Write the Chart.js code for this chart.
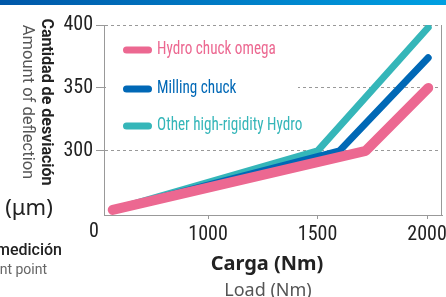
<!DOCTYPE html>
<html>
<head>
<meta charset="utf-8">
<script src="https://cdn.jsdelivr.net/npm/chart.js@4/dist/chart.umd.min.js"></script>
<style>
html,body{margin:0;padding:0;background:#fff;}
#wrap{width:446px;height:297px;position:relative;}
</style>
</head>
<body>
<div id="wrap"><canvas id="c" width="446" height="297"></canvas></div>
<script>
// ---- data ----
const seriesNames = ['Hydro chuck omega', 'Milling chuck', 'Other high-rigidity Hydro'];
const omegaLoad = [565, 1720, 2005];
const omegaDefl = [253, 300, 350];
const millingLoad = [565, 1600, 2005];
const millingDefl = [253, 300, 374];
const otherLoad = [565, 1500, 2005];
const otherDefl = [253, 300, 398];
const xTicks = [1000, 1500, 2000];
const yTicks = [300, 350, 400];
const xOriginLabel = '0';
const yTitle = ['Cantidad de desviación', 'Amount of deflection'];
const yUnit = '(μm)';
const pointTitle = ['Punto de medición', 'Measurement point'];
const xTitle = ['Carga (Nm)', 'Load (Nm)'];

const colors = ['#EC6891', '#0068B6', '#35B6B9'];
const widths = [10, 7, 7];

function pts(xs, ys) { return xs.map((x, i) => ({x: x, y: ys[i]})); }
const series = [pts(omegaLoad, omegaDefl), pts(millingLoad, millingDefl), pts(otherLoad, otherDefl)];

const NARROW = "'Liberation Sans Narrow', 'Roboto Condensed', Roboto, sans-serif";

const deco = {
  id: 'deco',
  beforeDraw(chart) {
    const ctx = chart.ctx;
    ctx.save();
    const g = ctx.createLinearGradient(0, 0, chart.width, 0);
    g.addColorStop(0, '#0057A8');
    g.addColorStop(1, '#00A0E2');
    ctx.fillStyle = g;
    ctx.fillRect(0, 0, chart.width, 5);
    ctx.restore();
  },
  afterDraw(chart) {
    const ctx = chart.ctx;
    const a = chart.chartArea;
    ctx.save();
    // right border
    ctx.strokeStyle = '#999';
    ctx.lineWidth = 1;
    ctx.beginPath();
    ctx.moveTo(Math.round(a.right) - 0.5, a.top);
    ctx.lineTo(Math.round(a.right) - 0.5, a.bottom);
    ctx.stroke();
    // legend box
    ctx.fillStyle = '#fff';
    ctx.fillRect(a.left + 2, 31, 192, 110);
    const rows = [50, 89, 126];
    chart.data.datasets.forEach((ds, i) => {
      const y = rows[i];
      ctx.strokeStyle = ds.borderColor;
      ctx.lineWidth = 7;
      ctx.lineCap = 'round';
      ctx.beginPath();
      ctx.moveTo(126.5, y);
      ctx.lineTo(148.5, y);
      ctx.stroke();
      ctx.save();
      ctx.translate(157, y - 1);
      ctx.scale(0.8, 1);
      ctx.fillStyle = ds.borderColor;
      ctx.font = '19px ' + NARROW;
      ctx.textBaseline = 'middle';
      ctx.textAlign = 'left';
      ctx.fillText(ds.label, 0, 0);
      ctx.restore();
    });
    // x origin label
    ctx.fillStyle = '#222';
    ctx.font = '20px ' + NARROW;
    ctx.textAlign = 'center';
    ctx.textBaseline = 'top';
    ctx.fillText(xOriginLabel, a.left - 10, 222);
    // y titles (rotated, reading top to bottom)
    ctx.save();
    ctx.translate(46, 102);
    ctx.rotate(Math.PI / 2);
    ctx.textAlign = 'center';
    ctx.textBaseline = 'middle';
    ctx.fillStyle = '#222';
    ctx.font = 'bold 16px Roboto, sans-serif';
    ctx.fillText(yTitle[0], 0, 0);
    ctx.restore();
    ctx.save();
    ctx.translate(27, 102);
    ctx.rotate(Math.PI / 2);
    ctx.textAlign = 'center';
    ctx.textBaseline = 'middle';
    ctx.fillStyle = '#555';
    ctx.font = '16.5px Roboto, sans-serif';
    ctx.fillText(yTitle[1], 0, 0);
    ctx.restore();
    // unit
    ctx.fillStyle = '#222';
    ctx.font = '22px "Noto Sans", sans-serif';
    ctx.textAlign = 'center';
    ctx.textBaseline = 'alphabetic';
    ctx.fillText(yUnit, 29, 215);
    // measurement point
    ctx.textAlign = 'right';
    ctx.fillStyle = '#222';
    ctx.font = '500 16px Roboto, sans-serif';
    ctx.fillText(pointTitle[0], 62, 255);
    ctx.fillStyle = '#666';
    ctx.font = '14px Roboto, sans-serif';
    ctx.fillText(pointTitle[1], 47, 274);
    // x titles
    ctx.textAlign = 'center';
    ctx.fillStyle = '#222';
    ctx.font = 'bold 20px "Noto Sans", sans-serif';
    ctx.fillText(xTitle[0], 267, 270);
    ctx.fillStyle = '#555';
    ctx.font = '18px "Noto Sans", sans-serif';
    ctx.fillText(xTitle[1], 268, 296);
    ctx.restore();
  }
};

new Chart(document.getElementById('c'), {
  type: 'line',
  data: {
    datasets: series.map((d, i) => ({
      label: seriesNames[i],
      data: d,
      borderColor: colors[i],
      backgroundColor: colors[i],
      borderWidth: widths[i],
      borderCapStyle: 'round',
      borderJoinStyle: 'round',
      pointRadius: 0,
      tension: 0,
      fill: false
    }))
  },
  options: {
    responsive: false,
    animation: false,
    layout: {padding: {top: 25, right: 4, left: 0, bottom: 0}},
    plugins: {legend: {display: false}, tooltip: {enabled: false}},
    scales: {
      x: {
        type: 'linear',
        min: 525,
        max: 2068,
        afterBuildTicks: (s) => { s.ticks = xTicks.map(v => ({value: v})); },
        afterFit: (s) => { s.height = 82; s.paddingRight = 0; s.paddingLeft = 0; },
        grid: {drawOnChartArea: false, tickLength: 4, color: '#999'},
        border: {color: '#999', width: 1},
        ticks: {color: '#222', font: {family: NARROW, size: 20}, padding: 4, maxRotation: 0, autoSkip: false,
                callback: (v) => String(v)}
      },
      y: {
        min: 249,
        max: 400,
        afterBuildTicks: (s) => { s.ticks = yTicks.map(v => ({value: v})); },
        afterFit: (s) => { s.width = 104; s.paddingTop = 0; s.paddingBottom = 0; },
        grid: {color: '#999', tickLength: 8},
        border: {color: '#999', width: 1, dash: [3, 3]},
        ticks: {color: '#222', font: {family: NARROW, size: 20}, padding: 3, callback: (v) => String(v)}
      }
    }
  },
  plugins: [deco]
});
</script>
</body>
</html>
